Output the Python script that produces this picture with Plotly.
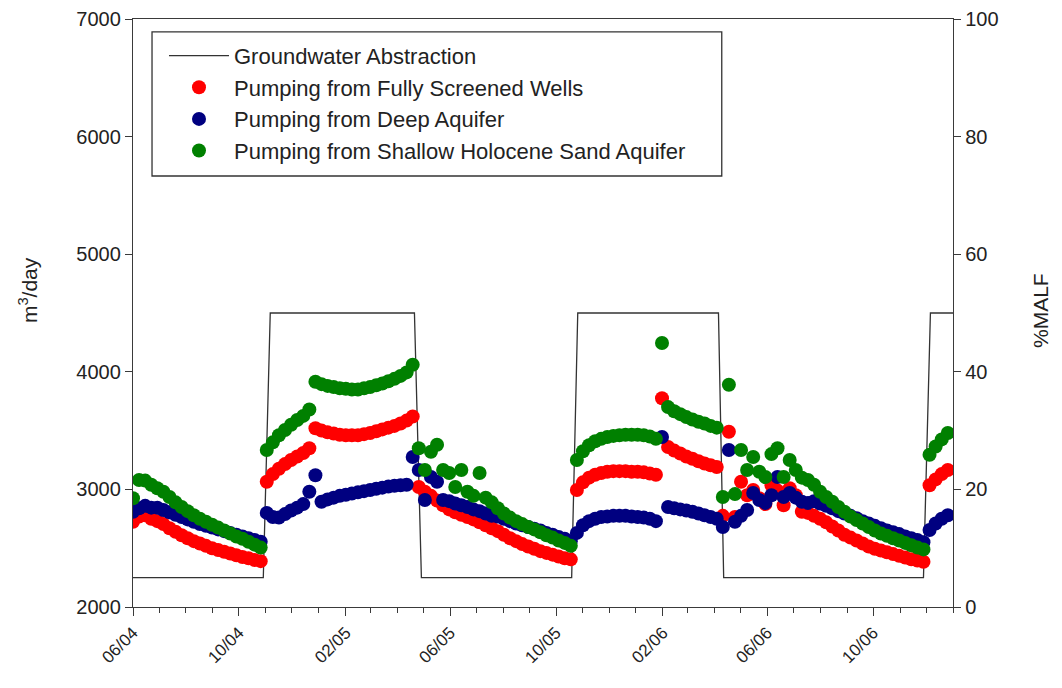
import pandas as pd
import plotly.graph_objects as go

# ---- data -------------------------------------------------------------
start_date = "2004-06-01"   # weekly model output

red_vals = [
    14.5, 15.4, 15.6, 15.0, 14.6, 14.1, 13.4, 12.8, 12.2, 11.7, 11.2, 10.8, 10.4, 10.0, 9.7, 9.4, 9.1, 8.8, 8.5, 8.3, 8.0, 7.8,
    21.3, 22.6, 23.5, 24.3, 25.0, 25.6, 26.2, 27.0,
    30.4, 30.0, 29.7, 29.5, 29.3, 29.2, 29.2, 29.2, 29.4, 29.6, 29.9, 30.2, 30.5, 30.8, 31.2, 31.7, 32.4,
    20.4, 19.6, 18.9, 18.1, 17.3, 16.6, 16.1, 15.7, 15.3, 14.9, 14.4, 13.9, 13.4, 12.9, 12.3, 11.7, 11.2, 10.7, 10.3, 9.9, 9.5, 9.2, 8.9, 8.6, 8.3, 8.1,
    19.9, 21.2, 22.0, 22.5, 22.8, 23.0, 23.1, 23.1, 23.1, 23.0, 23.0, 22.9, 22.7, 22.5, 35.5,
    27.2, 26.6, 26.1, 25.6, 25.2, 24.8, 24.4, 24.1, 23.8,
    15.5, 29.8, 15.3, 21.3, 19.0, 19.9, 18.5, 17.5, 20.7, 19.8, 17.3, 20.2, 19.0, 16.2, 16.0, 15.5, 15.0, 14.4, 13.7, 13.0,
    12.3, 11.8, 11.3, 10.8, 10.3, 9.9, 9.6, 9.3, 9.0, 8.7, 8.4, 8.1, 7.9, 7.7,
    20.7, 21.7, 22.6, 23.3,
]

blue_vals = [
    16.2, 16.8, 17.2, 16.9, 16.9, 16.5, 16.1, 15.7, 15.3, 14.9, 14.5, 14.1, 13.8, 13.5, 13.2, 12.9, 12.6, 12.3, 12.0, 11.7, 11.4, 11.1,
    16.0, 15.3, 15.2, 15.8, 16.4, 16.9, 17.5, 19.6,
    22.4, 17.9, 18.3, 18.6, 18.9, 19.1, 19.3, 19.5, 19.7, 19.9, 20.1, 20.3, 20.5, 20.6, 20.7, 20.8, 25.5,
    23.3, 18.2, 22.1, 21.3, 18.2, 18.0, 17.6, 17.3, 17.0, 16.6, 16.3, 15.9, 15.5, 15.4, 15.0, 14.6, 14.2, 13.9, 13.6, 13.3, 13.0, 12.6, 12.3, 11.9, 11.6, 11.2,
    12.6, 13.9, 14.6, 15.0, 15.3, 15.4, 15.5, 15.5, 15.5, 15.4, 15.3, 15.2, 15.0, 14.6, 28.9,
    17.0, 16.8, 16.6, 16.4, 16.2, 15.9, 15.6, 15.3, 15.0,
    13.6, 26.7, 14.5, 15.5, 16.5, 19.4, 18.2, 17.7, 19.0, 22.1, 18.7, 19.4, 18.6, 17.9, 17.7, 18.0, 17.6, 17.2, 16.8, 16.3,
    15.9, 15.5, 15.1, 14.6, 14.2, 13.8, 13.4, 13.0, 12.7, 12.4, 12.0, 11.7, 11.4, 11.0,
    13.1, 14.2, 15.0, 15.6,
]

green_vals = [
    18.5, 21.6, 21.5, 20.8, 20.2, 19.6, 18.7, 17.8, 17.0, 16.3, 15.6, 15.0, 14.5, 14.0, 13.5, 13.0, 12.5, 12.0, 11.6, 11.1, 10.6, 10.1,
    26.7, 28.0, 29.2, 30.1, 31.0, 31.8, 32.5, 33.6,
    38.3, 37.9, 37.6, 37.4, 37.2, 37.1, 37.0, 37.0, 37.2, 37.4, 37.7, 38.0, 38.4, 38.8, 39.3, 39.9, 41.2,
    27.0, 23.3, 26.4, 27.6, 23.3, 22.8, 20.4, 23.3, 19.6, 18.9, 22.8, 18.6, 17.8, 16.8, 15.9, 15.2, 14.6, 14.1, 13.6, 13.2, 12.7, 12.2, 11.8, 11.3, 10.9, 10.4,
    25.0, 26.5, 27.5, 28.2, 28.6, 28.9, 29.1, 29.2, 29.3, 29.3, 29.3, 29.2, 29.0, 28.6, 44.9,
    34.0, 33.3, 32.8, 32.3, 31.9, 31.5, 31.2, 30.8, 30.5,
    18.7, 37.8, 19.2, 26.7, 23.3, 25.5, 23.0, 22.1, 26.0, 27.0, 22.1, 25.0, 23.3, 22.0, 21.6, 20.8, 19.6, 18.7, 17.9, 17.0,
    16.2, 15.4, 14.8, 14.2, 13.6, 13.0, 12.5, 12.1, 11.7, 11.3, 10.9, 10.5, 10.1, 9.8,
    25.9, 27.3, 28.5, 29.6,
]

abs_dates = ["2004-06-01", "2004-10-29", "2004-11-06", "2005-04-21", "2005-04-29", "2005-10-19",
             "2005-10-26", "2006-04-06", "2006-04-12", "2006-11-28", "2006-12-06", "2007-01-01"]
abs_vals = [2250, 2250, 4500, 4500, 2250, 2250, 4500, 4500, 2250, 2250, 4500, 4500]

series_names = ["Groundwater Abstraction", "Pumping from Fully Screened Wells",
                "Pumping from Deep Aquifer", "Pumping from Shallow Holocene Sand Aquifer"]

# ---- figure -----------------------------------------------------------
week_dates = pd.date_range(start_date, periods=len(green_vals), freq="7D")

FONT = "Liberation Sans, Arial, sans-serif"
AXC = "#3a3a3a"
TXT = "#222222"

fig = go.Figure()
fig.add_trace(go.Scatter(x=abs_dates, y=abs_vals, mode="lines", name=series_names[0],
                         line=dict(color="#333333", width=1.3), legendrank=1, yaxis="y"))
fig.add_trace(go.Scatter(x=week_dates, y=red_vals, mode="markers", name=series_names[1],
                         marker=dict(color="#ff0000", size=14, line=dict(width=0)),
                         legendrank=2, yaxis="y2"))
fig.add_trace(go.Scatter(x=week_dates, y=blue_vals, mode="markers", name=series_names[2],
                         marker=dict(color="#000080", size=14, line=dict(width=0)),
                         legendrank=3, yaxis="y2"))
fig.add_trace(go.Scatter(x=week_dates, y=green_vals, mode="markers", name=series_names[3],
                         marker=dict(color="#008000", size=14, line=dict(width=0)),
                         legendrank=4, yaxis="y2"))

# page body has an 8px margin, so the figure is sized/offset to compensate
fig.update_layout(
    width=1054, height=680,
    margin=dict(l=125, r=109, t=11, b=81, autoexpand=False),
    paper_bgcolor="white", plot_bgcolor="white",
    font=dict(family=FONT, size=18, color=TXT),
    showlegend=True,
    legend=dict(x=0.0378, y=0.973, xanchor="left", yanchor="top",
                borderwidth=0, bgcolor="rgba(0,0,0,0)",
                font=dict(family=FONT, size=22, color=TXT),
                itemwidth=60, tracegroupgap=0, traceorder="normal"),
    shapes=[dict(type="rect", xref="paper", yref="paper", x0=0.0232, x1=0.718,
                 y0=0.733, y1=0.978, line=dict(color="#333333", width=1.3),
                 fillcolor="white", layer="below")],
    xaxis=dict(type="date", range=["2004-06-01", "2007-01-01"], automargin=False,
               tick0="2004-06-01", dtick="M4", tickformat="%m/%y", tickangle=-45,
               ticks="outside", ticklen=8, tickwidth=1.3, tickcolor=AXC,
               showline=True, linecolor=AXC, linewidth=1.3, mirror=True,
               showgrid=False, zeroline=False,
               tickfont=dict(family=FONT, size=17, color=TXT),
               minor=dict(dtick="M1", tick0="2004-06-01", ticks="outside", ticklen=5,
                          tickwidth=1.3, tickcolor=AXC, showgrid=False)),
    yaxis=dict(range=[2000, 7000], dtick=1000, ticks="outside", ticklen=7, tickwidth=1.3,
               tickcolor=AXC, showline=True, linecolor=AXC, linewidth=1.3, automargin=False,
               showgrid=False, zeroline=False,
               tickfont=dict(family=FONT, size=20, color=TXT)),
    yaxis2=dict(range=[0, 100], dtick=20, overlaying="y", side="right", ticks="outside",
                ticklen=7, tickwidth=1.3, tickcolor=AXC, showline=True, linecolor=AXC,
                linewidth=1.3, showgrid=False, zeroline=False, automargin=False,
                tickfont=dict(family=FONT, size=20, color=TXT)),
    annotations=[
        dict(text="m<sup>3</sup>/day", xref="paper", yref="paper", x=-0.128, y=0.539,
             textangle=-90, showarrow=False, xanchor="center", yanchor="middle",
             font=dict(family=FONT, size=21, color=TXT)),
        dict(text="%MALF", xref="paper", yref="paper", x=1.106, y=0.505,
             textangle=-90, showarrow=False, xanchor="center", yanchor="middle",
             font=dict(family=FONT, size=21, color=TXT)),
    ],
)

fig.write_html("out.html")
